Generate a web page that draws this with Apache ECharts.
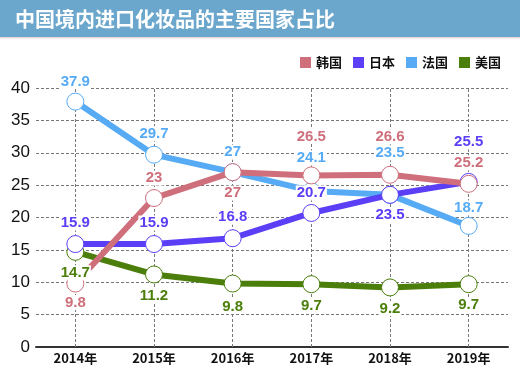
<!DOCTYPE html>
<html><head><meta charset="utf-8">
<script src="https://cdn.jsdelivr.net/npm/echarts@6/dist/echarts.min.js"></script>
<style>html,body{margin:0;padding:0;background:#fff}#c{width:520px;height:368px}</style>
</head><body><div id="c"></div>
<script>
var titleText = '中国境内进口化妆品的主要国家占比';
var years = ['2014年','2015年','2016年','2017年','2018年','2019年'];
var yTicks = [0,5,10,15,20,25,30,35,40];
var seriesNames = ['韩国','日本','法国','美国'];
var korea  = [9.8, 23, 27, 26.5, 26.6, 25.2];
var japan  = [15.9, 15.9, 16.8, 20.7, 23.5, 25.5];
var france = [37.9, 29.7, 27, 24.1, 23.5, 18.7];
var usa    = [14.7, 11.2, 9.8, 9.7, 9.2, 9.7];

// style config (label vertical offsets, colors, stacking)
var colors = ['#cf6f7c','#5a3ff6','#56abf4','#4b7e0a'];
var labelDy = [
  [19,-20,21,-39,-38,-21],
  [-21,-21,-21,-20,20,-40],
  [-20,-21,-20,-33,-42,-18],
  [21,21,23,22,21,21]
];
var zs = [5,4,3,2];
var values = [korea, japan, france, usa];

var series = [];
values.forEach(function(arr, si){
  series.push({
    name: seriesNames[si], type: 'line', z: zs[si],
    data: arr,
    symbol: 'circle', symbolSize: 17,
    itemStyle: {color: '#fff', borderColor: colors[si], borderWidth: 1},
    lineStyle: {color: colors[si], width: 6},
    label: {show: false},
    emphasis: {disabled: true}
  });
});
values.forEach(function(arr, si){
  series.push({
    name: seriesNames[si] + '标签', type: 'scatter', z: 10 + zs[si], silent: true,
    data: arr.map(function(v, i){ return {value: v, label: {offset: [0, labelDy[si][i]]}}; }),
    symbolSize: 1, itemStyle: {color: 'rgba(255,255,255,0)', opacity: 1},
    label: {show: true, position: 'inside', color: colors[si], opacity: 1, fontSize: 15, fontWeight: 'bold',
            fontFamily: 'Liberation Sans, Arial, sans-serif', backgroundColor: '#fff', padding: [0,1]},
    emphasis: {disabled: true}
  });
});
series.push({
  name: 'grid', type: 'line', z: 1, data: [], silent: true,
  markLine: {silent: true, z: 1, symbol: ['none','none'], label: {show: false},
    lineStyle: {color: '#777', type: [3,2], width: 1},
    data: years.map(function(y){ return {xAxis: y}; })}
});

var chart = echarts.init(document.getElementById('c'));
chart.setOption({
  animation: false,
  color: colors,
  graphic: [
    {type: 'rect', shape: {x: 0, y: 0, width: 520, height: 37}, style: {fill: '#6ba7cc'}, z: 0},
    {type: 'rect', shape: {x: 0, y: 37, width: 520, height: 1.5}, style: {fill: '#ecd6e0'}, z: 0},
    {type: 'text', left: 15, top: 9, z: 1, style: {text: titleText, fill: '#fff',
      font: 'bold 20px "Noto Sans CJK SC", sans-serif'}}
  ],
  legend: {
    data: seriesNames.map(function(n, i){ return {name: n, itemStyle: {color: colors[i], borderWidth: 0}}; }),
    right: 14, top: 51, icon: 'rect', itemWidth: 11, itemHeight: 11, itemGap: 11,
    textStyle: {fontSize: 13, fontWeight: 'bold', color: '#111', fontFamily: '"Noto Sans CJK SC", sans-serif'},
    selectedMode: false
  },
  grid: {left: 36, right: 12, top: 88, bottom: 21, containLabel: false},
  xAxis: {
    type: 'category', data: years, boundaryGap: true,
    axisLine: {lineStyle: {color: '#333', width: 2}},
    axisTick: {show: false},
    axisLabel: {color: '#111', fontSize: 13, fontWeight: 'bold', margin: 5,
      fontFamily: '"Noto Sans CJK SC", sans-serif'},
    splitLine: {show: false}
  },
  yAxis: {
    type: 'value', min: yTicks[0], max: yTicks[yTicks.length-1], interval: 5,
    axisLine: {show: false}, axisTick: {show: false},
    axisLabel: {color: '#111', fontSize: 17, margin: 6, fontFamily: 'Liberation Sans, Arial, sans-serif'},
    splitLine: {lineStyle: {color: '#777', type: [3,2], width: 1}}
  },
  series: series
});
</script></body></html>
